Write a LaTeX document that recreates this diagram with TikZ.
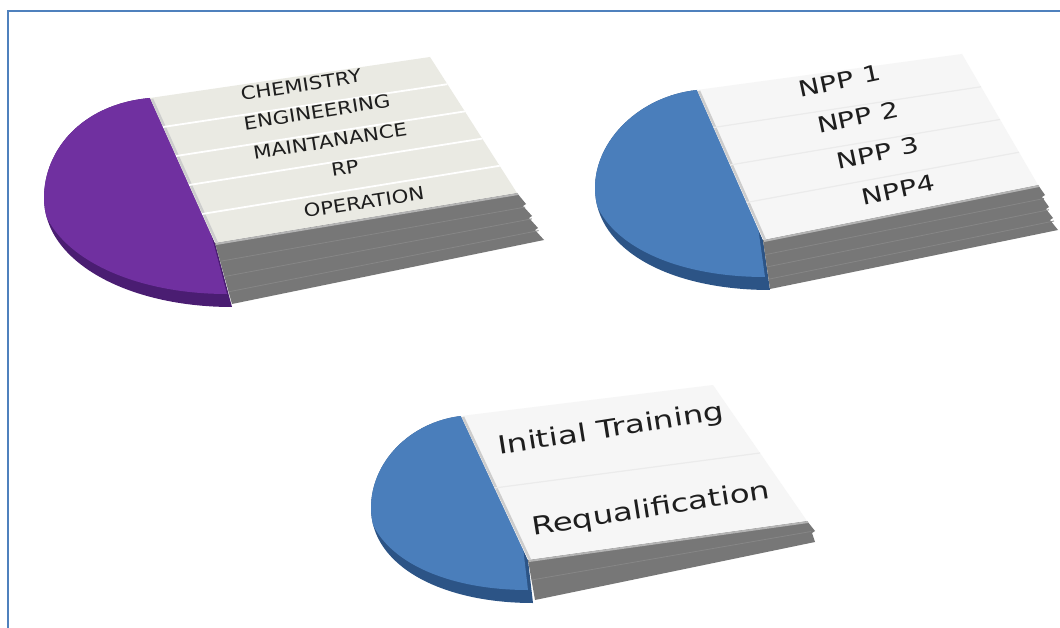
\documentclass[tikz,border=0pt]{standalone}
\usepackage{fontspec}
\setmainfont{DejaVu Sans}
\newfontfamily\wideA[FakeStretch=1.18]{DejaVu Sans}
\newfontfamily\wideB[FakeStretch=1.3]{DejaVu Sans}
\usetikzlibrary{calc}
\definecolor{frame}{HTML}{4F81BD}
\definecolor{purp}{HTML}{7030A0}
\definecolor{purpdark}{HTML}{4A1D72}
\definecolor{blu}{HTML}{4A7EBB}
\definecolor{bludark}{HTML}{2C5486}
\definecolor{faceA}{HTML}{EAEAE3}
\definecolor{faceB}{HTML}{F6F6F6}
\definecolor{side}{HTML}{777777}
\definecolor{sidelayer}{HTML}{868686}
\definecolor{sidelight}{HTML}{B4B4B4}
\definecolor{edgelight}{HTML}{CDCDCD}
\definecolor{txt}{HTML}{1E1E1E}
\newcommand\diskA{(150,98) .. controls (82,104) and (44,150) .. (44,198) .. controls (44,262) and (128,307) .. (232,307) -- (215,243) -- cycle}
\newcommand\diskB{(697,90) .. controls (640,96) and (595,140) .. (595,188) .. controls (595,250) and (670,290) .. (770,290) -- (763,240) -- cycle}
\newcommand\diskC{(461,416) .. controls (410,422) and (371,462) .. (371,508) .. controls (371,565) and (440,603) .. (533,603) -- (528,560) -- cycle}
\begin{document}
\begin{tikzpicture}[x=1pt,y=-1pt,
  rowline/.style={white, line width=1.8pt},
  rowlineB/.style={draw=black!8, line width=1.2pt},
  layer/.style={sidelayer, line width=0.8pt},
  bevel/.style={sidelight, line width=2pt},
  leftbevel/.style={edgelight, line width=2.5pt},
  txtA/.style={text=txt, inner sep=0pt, rotate=9, font=\wideA\fontsize{18}{18}\selectfont},
  txtB/.style={text=txt, inner sep=0pt, rotate=12, font=\wideB\fontsize{22}{22}\selectfont},
  txtC/.style={text=txt, inner sep=0pt, rotate=9, font=\wideB\fontsize{25}{25}\selectfont}]
\useasboundingbox (0,0) rectangle (1060,628);
\fill[white] (0,0) rectangle (1060,628);
\draw[frame, line width=2pt] (8,628) -- (8,11) -- (1060,11);

% ---------- shape 1 (purple) ----------
\fill[purpdark] \diskA;
\begin{scope}
  \clip \diskA;
  \fill[purp, xshift=-5pt, yshift=13pt] \diskA;
\end{scope}
\coordinate (a1) at (150,98);
\coordinate (a2) at (430,57);
\coordinate (a3) at (517,193);
\coordinate (a4) at (215,243);
\coordinate (a5) at (544,240);
\coordinate (a6) at (232,304);
\fill[side] (a4) -- (a3) -- (526,204) -- (523,206) -- (532,216) -- (529,218) -- (538,228) -- (535,230) -- (a5) -- (a6) -- cycle;
\foreach \f in {0.3,0.55,0.8} \draw[layer] ($(a4)!\f!(a6)$) -- ($(a3)!\f!(a5)$);
\fill[faceA] (a1) -- (a2) -- (a3) -- (a4) -- cycle;
\draw[bevel] ($(a4)+(1,1)$) -- ($(a3)+(1,1)$);
\draw[leftbevel] ($(a1)+(2,1)$) -- ($(a4)+(2,0)$);
\foreach \f in {0.2,0.4,0.6,0.8} \draw[rowline] ($(a1)!\f!(a4)$) -- ($(a2)!\f!(a3)$);
\node[txtA] (chem) at (301,85) {CHEMISTRY};
\node[txtA] (eng) at (317,112) {ENGINEERING};
\node[txtA] (mnt) at (330,141) {MAINTANANCE};
\node[txtA] (rp) at (345,168) {RP};
\node[txtA] (op) at (364,202) {OPERATION};

% ---------- shape 2 (blue, NPP) ----------
\fill[bludark] \diskB;
\begin{scope}
  \clip \diskB;
  \fill[blu, xshift=-5pt, yshift=13pt] \diskB;
\end{scope}
\coordinate (b1) at (697,90);
\coordinate (b2) at (962,54);
\coordinate (b3) at (1038,185);
\coordinate (b4) at (763,240);
\coordinate (b5) at (1058,230);
\coordinate (b6) at (770,289);
\fill[side] (b4) -- (b3) -- (1045,195) -- (1042,197) -- (1049,207) -- (1046,209) -- (1053,218) -- (1050,220) -- (b5) -- (b6) -- cycle;
\foreach \f in {0.3,0.55,0.8} \draw[layer] ($(b4)!\f!(b6)$) -- ($(b3)!\f!(b5)$);
\fill[faceB] (b1) -- (b2) -- (b3) -- (b4) -- cycle;
\draw[bevel] ($(b4)+(1,1)$) -- ($(b3)+(1,1)$);
\draw[leftbevel] ($(b1)+(2,1)$) -- ($(b4)+(2,0)$);
\foreach \f in {0.25,0.5,0.75} \draw[rowlineB] ($(b1)!\f!(b4)$) -- ($(b2)!\f!(b3)$);
\node[txtB] (npp1) at (840,81) {NPP 1};
\node[txtB] (npp2) at (858,117) {NPP 2};
\node[txtB] (npp3) at (878,153) {NPP 3};
\node[txtB] (npp4) at (898,190) {NPP4};

% ---------- shape 3 (blue, training) ----------
\fill[bludark] \diskC;
\begin{scope}
  \clip \diskC;
  \fill[blu, xshift=-5pt, yshift=13pt] \diskC;
\end{scope}
\coordinate (c1) at (461,416);
\coordinate (c2) at (713,385);
\coordinate (c3) at (807,521);
\coordinate (c4) at (528,560);
\coordinate (c5) at (815,542);
\coordinate (c6) at (535,600);
\fill[side] (c4) -- (c3) -- (815,531) -- (812,533) -- (c5) -- (c6) -- cycle;
\draw[layer] ($(c4)!0.5!(c6)$) -- ($(c3)!0.5!(c5)$);
\fill[faceB] (c1) -- (c2) -- (c3) -- (c4) -- cycle;
\draw[bevel] ($(c4)+(1,1)$) -- ($(c3)+(1,1)$);
\draw[leftbevel] ($(c1)+(2,1)$) -- ($(c4)+(2,0)$);
\draw[rowlineB] ($(c1)!0.5!(c4)$) -- ($(c2)!0.5!(c3)$);
\node[txtC] (init) at (611,430) {Initial Training};
\node[txtC] (requ) at (651,510) {Requalification};
\end{tikzpicture}
\end{document}
